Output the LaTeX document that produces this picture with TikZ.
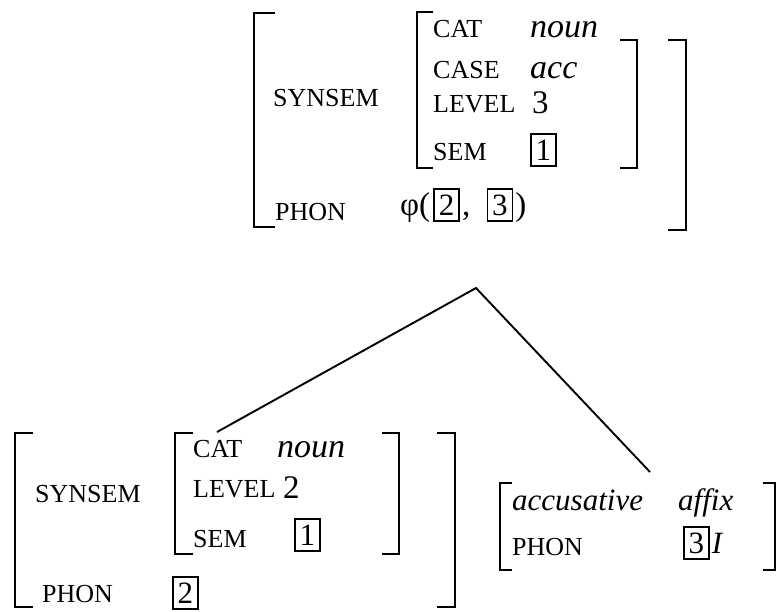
\documentclass[tikz,border=0pt]{standalone}
\usepackage{fontspec}
\setmainfont{Liberation Serif}
\begin{document}
\begin{tikzpicture}[x=1pt,y=-1pt,
  lab/.style={font=\fontsize{26}{30}\selectfont, inner sep=0pt, anchor=base west},
  val/.style={font=\fontsize{31}{35}\selectfont\itshape, inner sep=0pt, anchor=base west},
  bigval/.style={font=\fontsize{34}{38}\selectfont\itshape, inner sep=0pt, anchor=base west},
  num/.style={font=\fontsize{33}{37}\selectfont, inner sep=0pt, anchor=base west},
  boxnum/.style={draw, line width=1.6pt, font=\fontsize{31}{35}\selectfont, inner sep=0pt, minimum width=25pt, minimum height=32pt, anchor=base west},
  brk/.style={line width=2.8pt},
  link/.style={line width=1.9pt}]
\useasboundingbox (0,0) rectangle (779,611);

% ---------- top structure ----------
\draw[brk] (275,13) -- (254,13) -- (254,227) -- (275,227);
\draw[brk] (433,12) -- (417,12) -- (417,168) -- (433,168);
\draw[brk] (620,40) -- (637,40) -- (637,168) -- (620,168);
\draw[brk] (668,40) -- (686,40) -- (686,230) -- (668,230);

\node[lab] (t-syn) at (273,106) {SYNSEM};
\node[lab] (t-phon) at (275,220) {PHON};
\node[lab] (t-cat) at (433,37) {CAT};
\node[lab] (t-case) at (433,78) {CASE};
\node[lab] (t-level) at (433,112) {LEVEL};
\node[lab] (t-sem) at (433,160) {SEM};
\node[bigval] (t-noun) at (530,37) {noun};
\node[bigval] (t-acc) at (530,78) {acc};
\node[num] (t-3) at (532,113) {3};
\node[boxnum] (t-b1) at (530,160) {1};
\node[num] (t-phi) at (400,215) {φ(\kern3pt};
\node[boxnum] (t-b2) at (t-phi.base east) {2};
\node[num] (t-comma) at (t-b2.base east) {\kern2pt,\kern16pt};
\node[boxnum] (t-b3) at (t-comma.base east) {3};
\node[num] (t-rp) at (t-b3.base east) {\kern2pt)};

% ---------- tree ----------
\coordinate (apex) at (476,288);
\coordinate (lfoot) at (217,432);
\coordinate (rfoot) at (650,472);
\draw[link] (lfoot) -- (apex) -- (rfoot);

% ---------- bottom left ----------
\draw[brk] (33,433) -- (15,433) -- (15,607) -- (33,607);
\draw[brk] (193,433) -- (175,433) -- (175,554) -- (193,554);
\draw[brk] (382,433) -- (399,433) -- (399,554) -- (382,554);
\draw[brk] (437,433) -- (455,433) -- (455,607) -- (437,607);

\node[lab] (l-syn) at (35,502) {SYNSEM};
\node[lab] (l-phon) at (42,602) {PHON};
\node[lab] (l-cat) at (193,457) {CAT};
\node[lab] (l-level) at (193,497) {LEVEL};
\node[lab] (l-sem) at (193,547) {SEM};
\node[bigval] (l-noun) at (277,457) {noun};
\node[num] (l-2) at (283,498) {2};
\node[boxnum] (l-b1) at (294,545) {1};
\node[boxnum] (l-b2) at (172,603) {2};

% ---------- bottom right ----------
\draw[brk] (512,483) -- (500,483) -- (500,570) -- (512,570);
\draw[brk] (763,483) -- (775,483) -- (775,570) -- (763,570);

\node[val] (r-acc) at (512,510) {accusative};
\node[val] (r-affix) at (678,510) {affix};
\node[lab] (r-phon) at (512,555) {PHON};
\node[boxnum] (r-b3) at (683,553) {3};
\node[val] (r-I) at (r-b3.base east) {\kern2pt I};
\end{tikzpicture}
\end{document}
